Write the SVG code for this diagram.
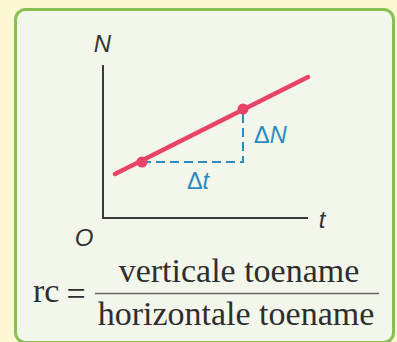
<svg xmlns="http://www.w3.org/2000/svg" width="397" height="342" viewBox="0 0 397 342">
<style>
.lbl{font-family:"Liberation Sans",Arial,sans-serif;font-style:italic;fill:#333;font-size:24px}
.blue{font-family:"Liberation Sans",Arial,sans-serif;font-style:italic;fill:#2a8bc0;font-size:23.5px}
.up{font-family:"Liberation Sans",Arial,sans-serif;font-style:normal}
.f{font-family:"Liberation Serif","Times New Roman",serif;fill:#2e2e2e;font-size:34px}
.axis{stroke:#3a3a3a;stroke-width:2;fill:none}
.dash{stroke:#2a8bc0;stroke-width:2;fill:none;stroke-dasharray:9 5}
</style>
<rect x="0" y="0" width="397" height="342" fill="#fcf8d4"/>
<rect x="15.5" y="9.5" width="378" height="333" rx="10" fill="#f3f6ea" stroke="#86c052" stroke-width="3"/>
<g id="axes">
<polyline class="axis" points="103,65 103,218 308,218"/>
<text class="lbl" x="102.5" y="52" text-anchor="middle">N</text>
<text class="lbl" x="84" y="246" text-anchor="middle">O</text>
<text class="lbl" x="322" y="228" text-anchor="middle">t</text>
</g>
<g id="connectors">
<polyline class="dash" points="142,162 243,162 243,109"/>
<line x1="115" y1="174" x2="308" y2="77" stroke="#e84468" stroke-width="4.5" stroke-linecap="round"/>
</g>
<g id="point1"><circle cx="142" cy="162" r="5.5" fill="#e84468"/></g>
<g id="point2"><circle cx="243" cy="109" r="5.5" fill="#e84468"/></g>
<g id="labels">
<text class="blue" x="198" y="189" text-anchor="middle"><tspan class="up">Δ</tspan>t</text>
<text class="blue" x="254" y="143"><tspan class="up">Δ</tspan>N</text>
</g>
<g id="formula">
<text class="f" x="33" y="302">rc</text>
<text class="f" x="76" y="305" text-anchor="middle">=</text>
<line x1="95" y1="293.5" x2="379" y2="293.5" stroke="#666" stroke-width="1.5"/>
<text class="f" x="239" y="282" text-anchor="middle">verticale toename</text>
<text class="f" x="236" y="325" text-anchor="middle">horizontale toename</text>
</g>
</svg>
